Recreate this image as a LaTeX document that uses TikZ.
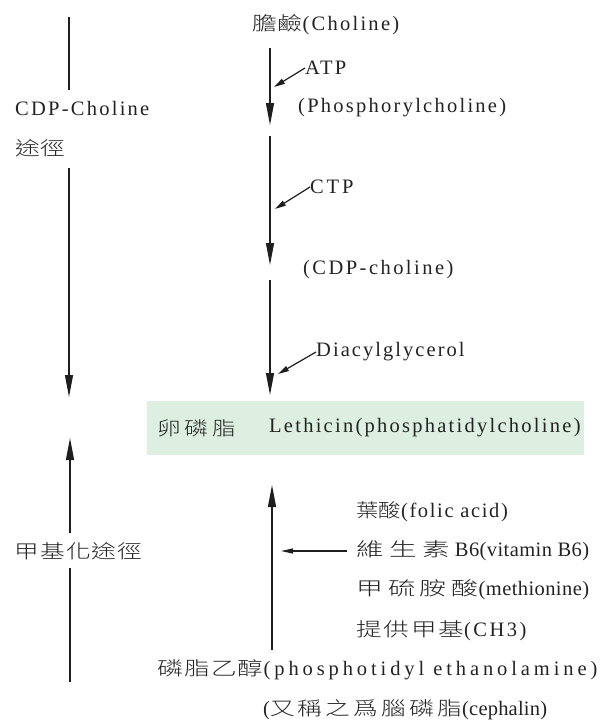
\documentclass[tikz,border=0pt]{standalone}
\usepackage{graphicx}
\usepackage{fontspec}
\setmainfont{Liberation Serif}
\IfFontExistsTF{Noto Sans CJK TC Light}
  {\newfontfamily\cjkf{Noto Sans CJK TC Light}}
  {\newfontfamily\cjkf{Noto Sans CJK TC}}
\usetikzlibrary{arrows.meta}
\newcommand\La[2]{{\addfontfeature{LetterSpace=#1}#2}}
\newcommand\Cj[3]{\scalebox{#1}[1]{\fontsize{19}{23}\cjkf\addfontfeature{LetterSpace=#2}#3}}
\definecolor{textgray}{RGB}{35,35,35}
\definecolor{linegray}{RGB}{30,30,30}
\definecolor{boxgreen}{RGB}{220,239,224}
\tikzset{
  txt/.style={anchor=west, inner sep=0pt, text=textgray, font=\fontsize{20.5}{23}\selectfont},
  plainline/.style={draw=linegray, line width=1.1pt},
  bigarrow/.style={draw=linegray, line width=1.2pt, -{Triangle[length=22pt,width=8pt]}},
  smallarrow/.style={draw=linegray, line width=1.2pt, -{Triangle[length=11pt,width=5.5pt]}},
  sidearrow/.style={draw=linegray, line width=1.1pt, -{Triangle[length=12pt,width=5pt]}}
}
\begin{document}
\begin{tikzpicture}[x=1pt,y=-1pt]
\useasboundingbox (0,0) rectangle (603,720);
% green box
\fill[boxgreen] (147,401) rectangle (584,455);
% text nodes
\node[txt] (choline) at (252,25) {\Cj{1.3}{4}{膽鹼}\La{11}{(Choline)}};
\node[txt] (atp) at (305,68) {\La{11}{ATP}};
\node[txt] (phos) at (298,108) {\La{11}{(Phosphorylcholine)}};
\node[txt] (ctp) at (310,187) {\La{14}{CTP}};
\node[txt] (cdpc) at (303,270) {\La{12}{(CDP-choline)}};
\node[txt] (dia) at (316,352) {\La{10}{Diacylglycerol}};
\node[txt] (lec) at (157,428) {\Cj{1.24}{17}{卵磷脂}};
\node[txt] (leth) at (269,428) {\La{11}{Lethicin(phosphatidylcholine)}};
\node[txt] (folic) at (356,512) {\Cj{1.18}{0}{葉酸}\La{8}{(folic acid)}};
\node[txt] (vitb) at (356,551) {\Cj{1.45}{20}{維生素}\ \La{2}{B6(vitamin B6)}};
\node[txt] (meth) at (356,590) {\Cj{1.42}{18}{甲硫胺酸}\La{2}{(methionine)}};
\node[txt] (ch3) at (356,631) {\Cj{1.35}{7}{提供甲基}\La{12}{(CH3)}};
\node[txt] (pe) at (157,670) {\Cj{1.35}{5}{磷脂乙醇}\La{19}{(phosphotidyl ethanolamine)}};
\node[txt] (ceph) at (263,710) {\La{11}{(}\Cj{1.3}{13}{又稱之爲腦磷脂}\La{1}{(cephalin)}};
\node[txt] (cdpl) at (15,108) {\La{11}{CDP-Choline}};
\node[txt] (tj) at (15,148) {\Cj{1.3}{2}{途徑}};
\node[txt] (mpath) at (14,551) {\Cj{1.3}{5}{甲基化途徑}};
% coordinates
\coordinate (l1a) at (69,17);
\coordinate (l1b) at (69,90);
\coordinate (l2a) at (69,168);
\coordinate (l2b) at (69,397);
\coordinate (l3a) at (70,533);
\coordinate (l3b) at (70,438);
\coordinate (l4a) at (70,568);
\coordinate (l4b) at (70,682);
\coordinate (r1a) at (270,48);
\coordinate (r1b) at (270,125);
\coordinate (r2a) at (270,136);
\coordinate (r2b) at (270,265);
\coordinate (r3a) at (270,280);
\coordinate (r3b) at (270,395);
\coordinate (r4a) at (272,650);
\coordinate (r4b) at (272,485);
\coordinate (atpT) at (274,87);
\coordinate (ctpT) at (275,209);
\coordinate (diaT) at (278,374);
\coordinate (b6S) at (347,551);
\coordinate (b6T) at (281,551);
% left column
\draw[plainline] (l1a) -- (l1b);
\draw[bigarrow] (l2a) -- (l2b);
\draw[bigarrow] (l3a) -- (l3b);
\draw[plainline] (l4a) -- (l4b);
% right column
\draw[bigarrow] (r1a) -- (r1b);
\draw[bigarrow] (r2a) -- (r2b);
\draw[bigarrow] (r3a) -- (r3b);
\draw[bigarrow] (r4a) -- (r4b);
% side arrows
\draw[smallarrow] (atp.west) -- (atpT);
\draw[smallarrow] (ctp.west) -- (ctpT);
\draw[smallarrow] (dia.west) -- (diaT);
\draw[sidearrow] (b6S) -- (b6T);
\end{tikzpicture}
\end{document}
